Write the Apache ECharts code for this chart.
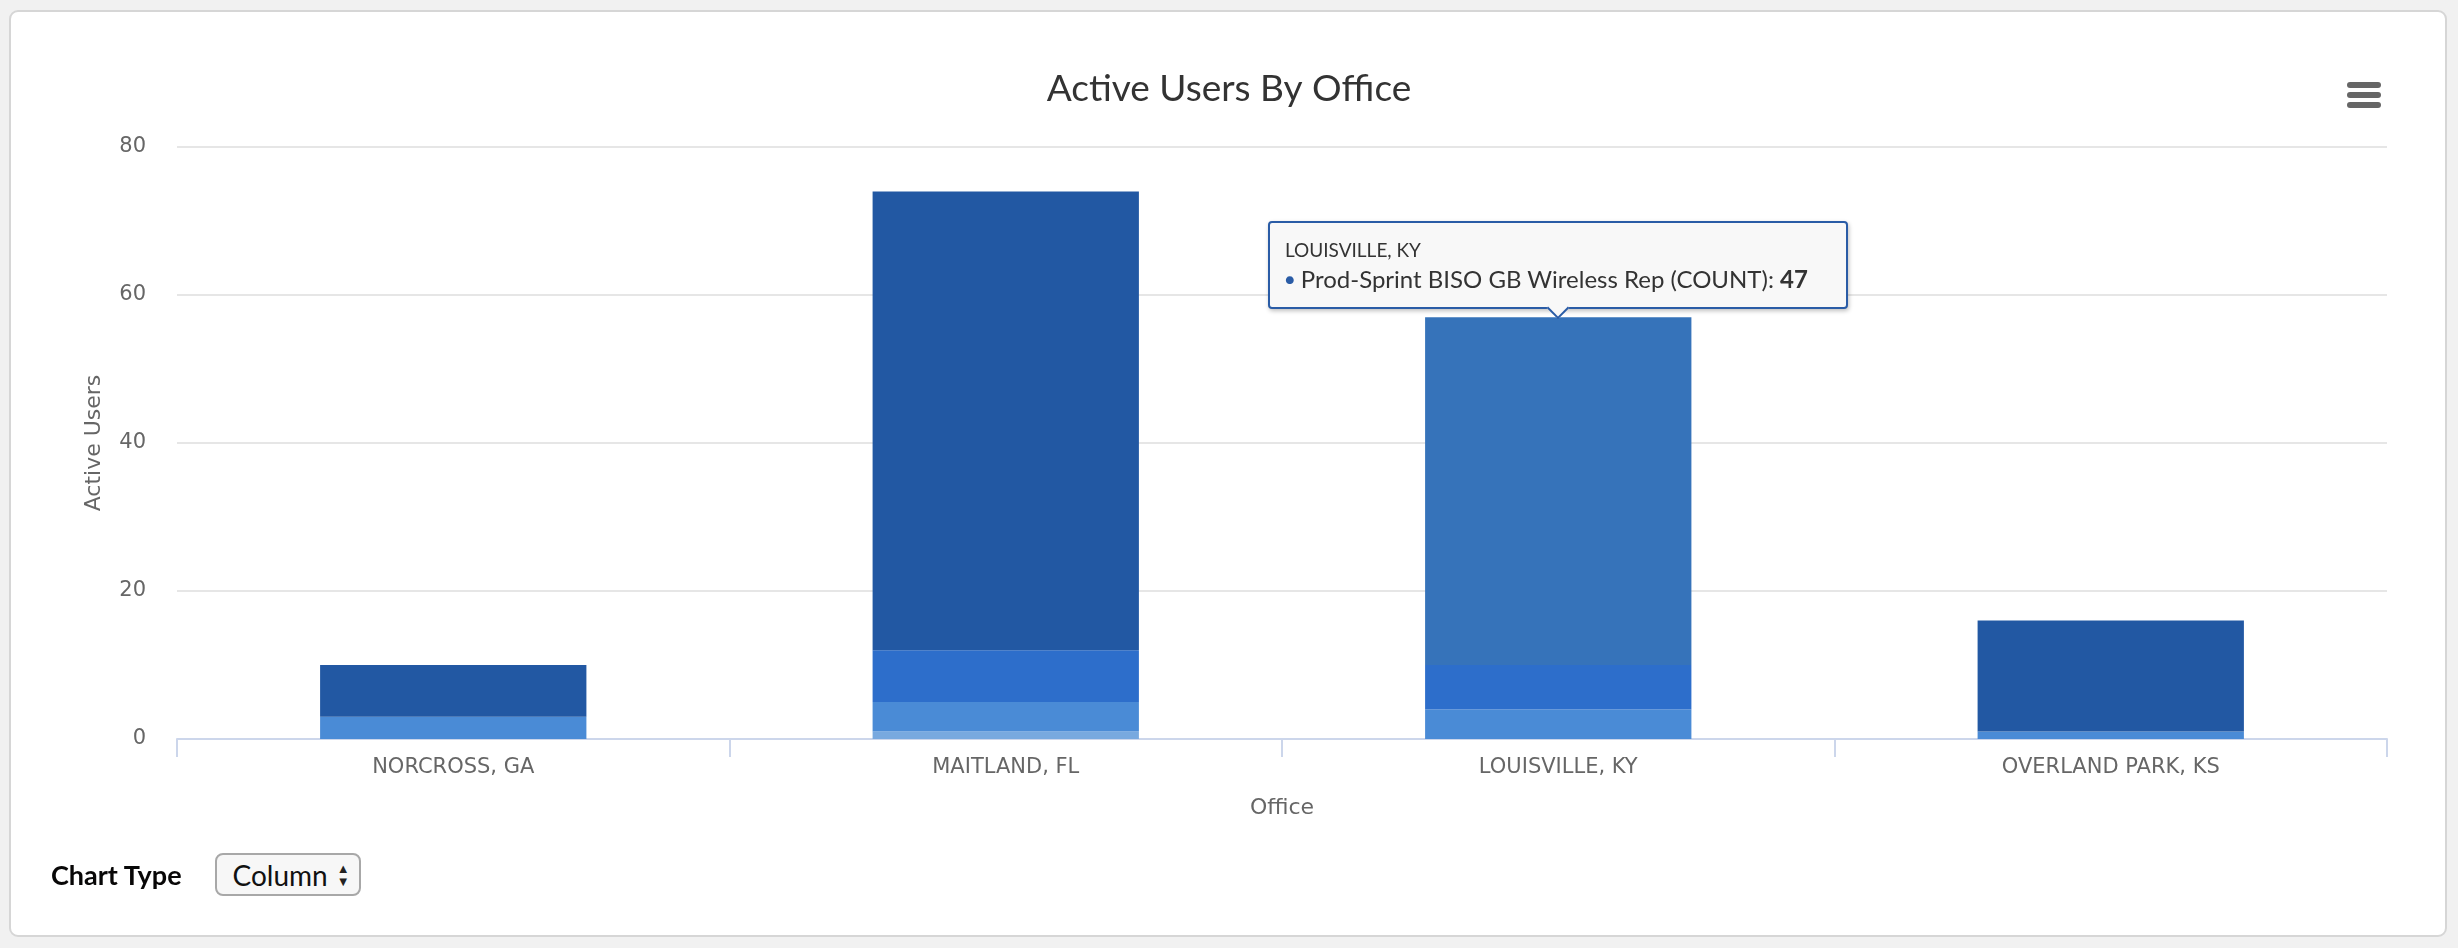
<!DOCTYPE html>
<html>
<head>
<meta charset="utf-8">
<script src="https://cdn.jsdelivr.net/npm/echarts@6/dist/echarts.min.js"></script>
<style>
  html, body { margin:0; padding:0; width:2458px; height:948px; background:#f1f1f1; overflow:hidden; }
  #card { position:absolute; left:9px; top:10px; width:2434px; height:923px; background:#fff;
          border:2px solid #d6d6d6; border-radius:9px; }
  #chart { position:absolute; left:0; top:0; width:2458px; height:948px; }
  #ctl { position:absolute; left:51px; top:853px; height:43px; display:flex; align-items:center;
         font-family:"Lato","Open Sans",sans-serif; }
  #ctl .lbl { font-weight:700; font-size:27px; color:#080707; margin-right:33px; }
  #ctl .sel { box-sizing:border-box; width:146px; height:43px; border:2px solid #a8a8a8; border-radius:8px;
              background:#f7f7f7; font-size:28px; color:#111; display:flex; align-items:center; padding-left:16px; position:relative; }
  #ctl .arr { position:absolute; right:9px; top:7px; font-size:13px; line-height:13px; color:#222; }
</style>
</head>
<body>
<div id="card"></div>
<div id="chart"></div>
<div id="ctl"><span class="lbl">Chart Type</span><div class="sel">Column<div class="arr">▲<br>▼</div></div></div>
<script>
const chartTitle = "Active Users By Office";
const xAxisTitle = "Office";
const yAxisTitle = "Active Users";
const categories = ["NORCROSS, GA", "MAITLAND, FL", "LOUISVILLE, KY", "OVERLAND PARK, KS"];
const yTicks = { min: 0, max: 80, interval: 20 };

// stacked bottom -> top
const seriesNames = ["Profile A (COUNT)", "Profile B (COUNT)", "Profile C (COUNT)",
                     "Prod-Sprint BISO GB Wireless Rep (COUNT)", "Profile D (COUNT)"];
const seriesA = [0, 1, 0, 0];
const seriesB = [3, 4, 4, 1];
const seriesC = [0, 7, 6, 0];
const seriesSprint = [0, 0, 47, 0];
const seriesD = [7, 62, 0, 15];
const seriesColors = ["#78a9df", "#4a8bd6", "#2d6ecb", "#3673ba", "#2258a3"];

const allData = [seriesA, seriesB, seriesC, seriesSprint, seriesD];

const chart = echarts.init(document.getElementById('chart'), null, { renderer: 'canvas' });
const axisFont = '"DejaVu Sans", sans-serif';

const option = {
  animation: false,
  backgroundColor: 'transparent',
  title: {
    text: chartTitle, left: 'center', top: 66,
    textStyle: { fontFamily: 'Lato, sans-serif', fontSize: 37, fontWeight: 'normal', color: '#333333' }
  },
  grid: { left: 177, right: 71, top: 147, bottom: 209, containLabel: false },
  tooltip: {
    trigger: 'item', triggerOn: 'none', alwaysShowContent: true, transitionDuration: 0,
    backgroundColor: '#f8f8f8', borderColor: '#2a5ca6', borderWidth: 2, padding: [14, 15, 12, 15],
    extraCssText: 'width:580px;box-sizing:border-box;border-radius:4px;box-shadow:1px 2px 4px rgba(0,0,0,0.25);overflow:visible;',
    position: function (point, params, dom, rect, size) {
      if (!rect) return point;
      return [rect.x + rect.width / 2 - size.contentSize[0] / 2, rect.y - size.contentSize[1] - 8];
    },
    formatter: function (p) {
      return '<div style="font-family:Lato,sans-serif;font-size:19px;color:#333;line-height:26px">' + p.name + '</div>' +
        '<div style="font-family:Lato,sans-serif;font-size:24px;color:#333;line-height:32px;white-space:nowrap">' +
        '<span style="color:#2a5ca6;font-size:16px;vertical-align:3px">●</span> ' + p.seriesName + ': <b>' + p.value + '</b></div>' +
        '<div style="position:absolute;left:calc(50% - 8px);bottom:-9px;width:14px;height:14px;background:#f8f8f8;' +
        'border-right:2px solid #2a5ca6;border-bottom:2px solid #2a5ca6;transform:rotate(45deg);"></div>';
    }
  },
  xAxis: {
    type: 'category', data: categories, boundaryGap: true,
    name: xAxisTitle, nameLocation: 'middle', nameGap: 58,
    nameTextStyle: { fontFamily: axisFont, fontSize: 22, color: '#666666' },
    axisLine: { lineStyle: { color: '#ccd6eb', width: 2 } },
    axisTick: { show: true, alignWithLabel: false, length: 18, lineStyle: { color: '#ccd6eb', width: 2 } },
    axisLabel: { fontFamily: axisFont, fontSize: 21, color: '#666666', margin: 18 },
    splitLine: { show: false }
  },
  yAxis: {
    type: 'value', min: yTicks.min, max: yTicks.max, interval: yTicks.interval,
    name: yAxisTitle, nameLocation: 'middle', nameGap: 72, nameRotate: 90,
    nameTextStyle: { fontFamily: axisFont, fontSize: 22, color: '#666666' },
    axisLine: { show: false }, axisTick: { show: false },
    axisLabel: { fontFamily: axisFont, fontSize: 21, color: '#666666', margin: 31 },
    splitLine: { lineStyle: { color: '#e6e6e6', width: 2 } }
  },
  graphic: [
    { type: 'rect', left: 2347, top: 82, shape: { width: 34, height: 6, r: 3 }, style: { fill: '#666666' } },
    { type: 'rect', left: 2347, top: 92, shape: { width: 34, height: 6, r: 3 }, style: { fill: '#666666' } },
    { type: 'rect', left: 2347, top: 102, shape: { width: 34, height: 6, r: 3 }, style: { fill: '#666666' } }
  ],
  series: allData.map((d, i) => ({
    type: 'bar', name: seriesNames[i], stack: 'total', data: d,
    barWidth: '48.2%', itemStyle: { color: seriesColors[i] }
  }))
};
chart.setOption(option);
chart.dispatchAction({ type: 'showTip', seriesIndex: 3, dataIndex: 2 });
</script>
</body>
</html>
